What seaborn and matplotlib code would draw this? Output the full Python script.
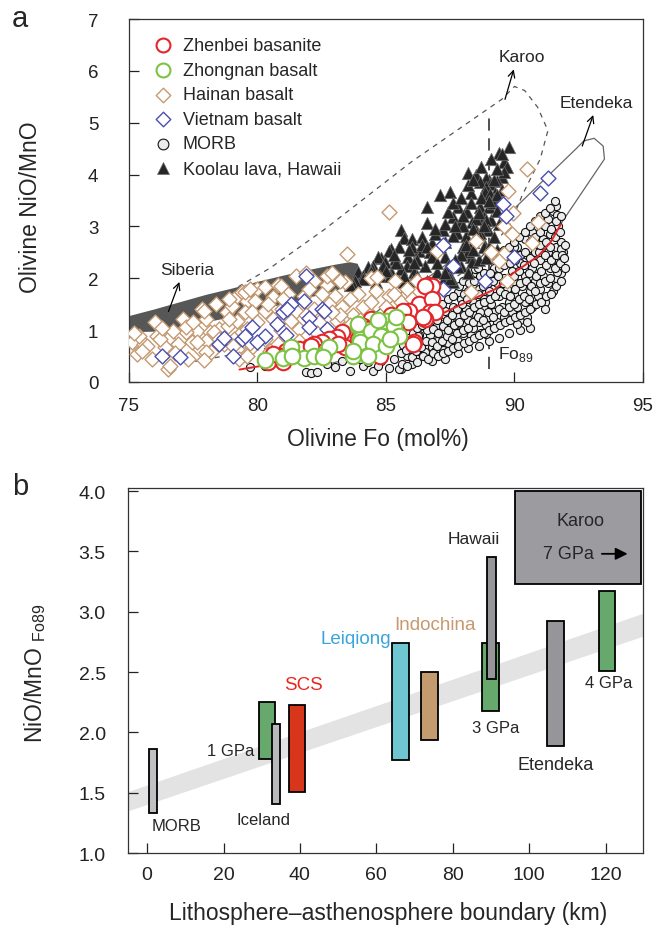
import matplotlib
matplotlib.use('Agg')
import matplotlib.pyplot as plt
import numpy as np
import pandas as pd
import seaborn as sns

# ---------------- panel a: olivine Fo vs NiO/MnO ----------------
zhenbei = [(86.65, 1.88), (86.8, 1.85), (86.5, 1.85), (86.3, 1.5), (86.8, 1.6), (86.7, 1.35), (86.9, 1.35),
           (85.9, 1.37), (85.65, 1.37), (85.7, 1.15), (85.85, 1.15), (86.5, 1.21), (86.45, 1.25), (86.1, 0.77),
           (86.05, 0.73), (84.4, 1.21), (84.7, 1.02), (85.4, 1.02), (84.75, 0.5), (84.1, 1.08), (84.3, 1.02),
           (83.3, 0.96), (83.1, 0.87), (82.8, 0.83), (82.5, 0.77), (82.2, 0.73), (82.0, 0.67), (81.6, 0.63),
           (81.1, 0.6), (80.9, 0.5), (80.4, 0.38), (83.4, 0.67), (83.9, 0.83), (83.9, 0.58), (82.5, 0.58),
           (83.15, 0.73), (80.6, 0.54), (81.0, 0.38), (81.3, 0.58), (82.1, 0.69), (85.2, 1.3), (84.9, 0.85),
           (85.0, 1.15)]
zhongnan = [(80.3, 0.42), (81.0, 0.46), (81.3, 0.67), (81.8, 0.46), (82.2, 0.5), (82.6, 0.54), (81.35, 0.5),
            (82.8, 0.67), (83.9, 1.08), (83.7, 0.5), (84.1, 0.67), (84.4, 0.73), (84.0, 0.83), (83.9, 1.12),
            (85.0, 1.17), (85.3, 1.08), (85.5, 0.88), (84.4, 0.98), (84.8, 0.88), (84.0, 0.77), (84.5, 0.73),
            (83.7, 0.6), (85.0, 0.69), (84.3, 0.5), (82.55, 0.48), (85.15, 0.83), (84.7, 1.2), (85.4, 1.25)]
hainan = [(76.0, 1.15), (77.1, 1.21), (78.0, 1.21), (77.85, 1.4), (78.4, 1.5), (78.8, 1.35), (79.1, 1.6),
          (79.4, 1.73), (75.1, 0.77), (75.3, 0.54), (75.6, 0.73), (76.1, 0.88), (76.5, 0.83), (75.4, 0.88),
          (76.4, 0.67), (76.9, 0.73), (77.45, 0.77), (77.65, 0.98), (78.15, 0.96), (77.2, 0.96), (76.7, 0.98),
          (76.5, 0.25), (78.0, 0.79), (78.5, 1.02), (78.85, 1.08), (79.2, 1.17), (78.7, 0.73), (79.2, 0.63),
          (78.2, 0.58), (77.3, 0.44), (75.9, 0.44), (79.0, 1.46), (79.6, 1.56), (79.5, 1.35), (79.1, 0.83),
          (75.7, 0.69), (76.6, 0.31), (77.75, 0.63), (78.3, 0.96), (77.9, 1.37), (78.9, 1.6), (79.5, 1.73),
          (80.0, 1.79), (79.3, 0.44), (79.4, 0.96), (77.2, 1.06), (76.2, 0.83), (78.9, 1.21), (78.5, 0.83),
          (79.05, 0.69), (78.0, 0.58), (77.65, 0.77), (81.5, 2.04),
          (79.7, 1.79), (80.3, 1.83), (80.8, 1.88), (82.2, 1.94), (82.7, 1.88), (83.4, 1.92), (83.5, 2.46),
          (79.9, 1.56), (80.6, 1.63), (81.2, 1.69), (81.8, 1.65), (82.5, 1.69), (83.0, 1.65), (83.9, 1.69),
          (79.8, 1.35), (80.3, 1.37), (80.95, 1.4), (81.5, 1.37), (82.2, 1.4), (83.3, 1.44), (84.1, 1.44),
          (80.0, 1.15), (80.6, 1.21), (81.3, 1.17), (82.4, 1.15), (79.6, 1.02), (80.3, 0.83), (81.6, 1.02),
          (83.1, 1.17), (79.8, 0.67), (80.8, 0.73), (82.7, 2.04),
          (84.4, 2.0), (84.6, 1.75), (85.1, 1.65), (84.4, 1.55), (85.35, 1.95), (85.8, 1.8), (86.2, 1.95),
          (85.0, 1.45), (83.6, 1.6), (83.7, 1.3), (84.0, 1.2), (83.2, 1.3), (84.65, 2.02), (88.3, 1.73),
          (82.0, 1.8), (82.9, 2.1), (83.2, 1.95), (81.0, 1.6), (80.4, 1.5), (82.8, 1.5), (83.6, 1.1),
          (82.9, 1.35), (81.9, 1.3), (81.6, 0.8), (82.3, 0.95), (80.9, 1.0), (80.5, 0.6), (79.6, 0.5),
          (84.5, 1.25), (85.6, 1.55), (86.0, 1.6), (85.3, 1.7), (77.5, 1.15), (76.3, 1.05), (75.5, 0.6),
          (75.2, 0.95), (76.8, 0.55), (77.9, 0.42), (79.7, 0.75), (80.9, 1.85), (81.9, 2.1),
          (85.1, 3.27), (88.5, 2.72), (87.0, 2.52), (89.1, 2.5), (90.5, 4.1), (89.75, 3.68), (89.95, 3.25),
          (89.6, 3.0), (89.9, 2.85), (90.9, 3.08), (90.7, 2.69), (89.6, 2.46), (89.7, 1.94), (89.4, 2.33)]
vietnam = [(76.3, 0.5), (77.0, 0.48), (78.5, 0.73), (78.7, 0.85), (79.05, 0.5), (79.4, 0.83), (79.8, 1.07),
           (80.3, 0.88), (80.75, 1.12), (81.0, 1.35), (81.3, 1.5), (81.8, 1.56), (81.9, 2.04), (82.0, 1.23),
           (82.5, 1.4), (80.0, 0.78), (79.5, 0.88), (81.1, 0.9), (81.15, 1.4), (82.7, 1.02), (82.0, 1.06),
           (82.6, 1.37), (87.2, 2.65), (87.6, 2.23), (87.2, 1.79), (88.85, 1.94), (91.3, 3.94), (91.0, 3.65),
           (89.55, 3.43), (89.65, 3.2), (90.0, 2.42)]
morb = [(79.7, 0.28), (80.3, 0.3), (81.9, 0.2), (82.1, 0.18), (82.3, 0.2), (83.0, 0.28), (83.6, 0.22),
        (84.1, 0.3), (84.5, 0.22), (85.1, 0.27), (85.6, 0.25), (85.3, 0.45), (84.8, 0.4), (83.3, 0.4),
        (82.7, 0.35), (84.0, 0.45), (85.8, 0.5), (86.0, 0.62), (86.2, 0.45), (86.4, 0.75), (86.5, 0.58),
        (86.7, 0.9), (86.8, 0.68), (86.9, 0.52), (87.0, 1.1), (87.0, 0.8), (86.6, 1.0), (86.3, 0.9),
        (86.1, 0.8), (85.9, 0.7), (87.2, 0.62), (87.3, 1.3), (87.2, 0.95), (87.4, 0.75), (87.5, 1.15),
        (87.5, 0.9), (87.6, 1.45), (87.7, 1.0), (87.8, 0.8), (87.8, 1.25), (87.9, 1.6), (88.0, 1.1),
        (88.0, 0.95), (88.1, 1.4), (88.2, 1.75), (88.2, 1.2), (88.3, 0.9), (88.4, 1.55), (88.4, 1.05),
        (88.5, 2.1), (88.5, 1.3), (88.6, 1.8), (88.6, 1.15), (88.7, 0.95), (88.8, 1.6), (88.8, 1.4),
        (88.9, 2.0), (88.9, 1.1), (89.0, 1.75), (89.0, 1.25), (89.1, 1.5), (89.2, 2.2), (89.2, 1.35),
        (89.3, 1.9), (89.3, 1.15), (89.4, 1.65), (89.5, 2.3), (89.5, 1.45), (89.6, 2.0), (89.6, 1.25),
        (89.7, 1.8), (89.8, 2.45), (89.8, 1.55), (89.9, 2.15), (89.9, 1.35), (90.0, 1.95), (90.0, 1.7),
        (90.1, 2.6), (90.1, 1.45), (90.2, 2.3), (90.2, 1.2), (90.3, 1.85), (90.4, 2.75), (90.4, 2.05),
        (90.4, 1.55), (90.5, 2.45), (90.5, 1.25), (90.6, 1.75), (90.7, 2.9), (90.7, 2.2), (90.7, 1.45),
        (90.8, 2.6), (90.8, 1.95), (90.9, 1.65), (91.0, 3.05), (91.0, 2.35), (91.0, 1.8), (91.1, 2.75),
        (91.1, 2.05), (91.2, 1.55), (91.3, 3.15), (91.3, 2.5), (91.3, 1.9), (91.4, 2.85), (91.4, 2.2),
        (91.5, 1.75), (91.5, 3.3), (91.6, 2.6), (91.6, 2.0), (91.7, 3.0), (91.7, 2.35), (91.8, 2.7),
        (91.8, 2.1), (91.9, 2.5), (91.6, 3.4), (91.2, 1.4), (90.6, 1.05), (90.2, 1.0), (89.8, 0.95),
        (89.4, 0.85), (89.0, 0.8), (88.6, 0.7), (88.2, 0.65), (87.8, 0.55), (87.3, 0.45), (86.8, 0.4),
        (86.0, 0.35), (90.0, 2.6), (88.65, 1.35), (88.9, 0.92), (90.1, 1.12), (90.5, 1.15), (91.65, 2.12),
        (91.8, 2.56), (91.65, 3.23), (88.45, 2.17), (87.8, 1.73), (87.3, 1.37), (86.9, 0.6), (85.5, 0.25),
        (84.7, 0.31), (84.3, 0.38),
        (85.62, 0.35), (85.58, 0.55), (85.65, 0.72), (85.82, 0.3), (85.77, 0.62), (85.84, 0.85),
        (86.03, 0.48), (85.97, 0.75), (86.05, 0.95), (86.22, 0.38), (86.18, 0.6), (86.24, 0.88),
        (86.2, 1.05), (86.43, 0.5), (86.38, 0.68), (86.41, 1.1), (86.62, 0.45), (86.57, 0.8),
        (86.64, 1.15), (86.83, 0.55), (86.78, 0.78), (86.82, 1.02), (86.79, 1.25), (87.03, 0.5),
        (86.98, 0.7), (87.04, 0.95), (86.97, 1.2), (87.02, 1.4), (87.22, 0.55), (87.18, 0.8),
        (87.23, 1.08), (87.19, 1.5), (87.42, 0.6), (87.37, 0.88), (87.41, 1.0), (87.38, 1.2),
        (87.43, 1.6), (87.62, 0.65), (87.58, 0.82), (87.63, 1.1), (87.57, 1.3), (87.61, 1.65),
        (87.82, 0.7), (87.78, 0.95), (87.83, 1.15), (87.77, 1.4), (87.84, 1.85), (88.02, 0.75),
        (87.98, 1.0), (88.03, 1.3), (87.97, 1.5), (88.04, 1.7), (87.99, 1.95), (88.22, 0.8),
        (88.18, 1.05), (88.23, 1.35), (88.17, 1.6), (88.24, 1.9), (88.42, 0.85), (88.38, 1.15),
        (88.43, 1.45), (88.37, 1.7), (88.41, 1.95), (88.39, 2.3), (88.62, 0.9), (88.58, 1.25),
        (88.63, 1.5), (88.57, 1.7), (88.64, 2.05), (88.59, 2.2), (88.82, 0.95), (88.78, 1.2),
        (88.83, 1.55), (88.77, 1.85), (88.81, 2.1), (89.02, 1.0), (88.98, 1.35), (89.03, 1.6),
        (88.97, 1.9), (89.04, 2.1), (88.99, 2.35), (89.22, 1.05), (89.18, 1.25), (89.23, 1.65),
        (89.17, 1.95), (89.21, 2.45), (89.42, 1.1), (89.38, 1.4), (89.43, 1.75), (89.37, 2.05),
        (89.41, 2.2), (89.39, 2.5), (89.62, 1.15), (89.58, 1.35), (89.63, 1.7), (89.57, 1.9),
        (89.61, 2.25), (89.59, 2.55), (89.82, 1.2), (89.78, 1.45), (89.83, 1.65), (89.77, 2.0),
        (89.81, 2.3), (89.79, 2.6), (90.02, 1.25), (89.98, 1.5), (90.03, 1.8), (89.97, 2.05),
        (90.01, 2.35), (89.99, 2.7), (90.22, 1.3), (90.18, 1.6), (90.23, 1.9), (90.17, 2.15),
        (90.21, 2.45), (90.19, 2.8), (90.42, 1.35), (90.38, 1.65), (90.43, 1.95), (90.37, 2.25),
        (90.41, 2.5), (90.39, 2.9), (90.62, 1.4), (90.58, 1.6), (90.63, 1.85), (90.57, 2.1),
        (90.61, 2.4), (90.59, 2.7), (90.6, 3.0), (90.82, 1.5), (90.78, 1.75), (90.83, 2.05),
        (90.77, 2.3), (90.81, 2.5), (90.79, 2.8), (90.8, 3.1), (91.02, 1.55), (90.98, 1.9),
        (91.03, 2.15), (90.97, 2.5), (91.01, 2.65), (90.99, 2.9), (91.0, 3.2), (91.22, 1.65),
        (91.18, 1.95), (91.23, 2.25), (91.17, 2.45), (91.21, 2.7), (91.19, 3.0), (91.2, 3.25),
        (91.42, 1.7), (91.38, 2.0), (91.43, 2.35), (91.37, 2.6), (91.41, 2.95), (91.39, 3.35),
        (91.62, 1.85), (91.58, 2.2), (91.63, 2.45), (91.57, 2.8), (91.61, 3.1), (91.59, 3.5),
        (91.82, 1.95), (91.78, 2.3), (91.83, 2.45), (91.77, 2.9), (91.81, 3.2), (91.95, 2.2),
        (91.93, 2.4), (91.97, 2.65)]
koolau = [(89.8, 4.54), (89.4, 4.42), (89.6, 4.25), (89.7, 4.15), (88.2, 4.04), (88.5, 4.0), (89.0, 3.9),
          (89.5, 3.96), (88.9, 3.94), (89.3, 3.87), (88.65, 3.85), (89.05, 3.81), (88.9, 3.77), (89.2, 3.9),
          (87.1, 3.6), (87.5, 3.67), (88.3, 3.65), (88.85, 3.67), (89.25, 3.65), (89.05, 3.62), (86.6, 3.37),
          (87.8, 3.37), (88.1, 3.29), (88.65, 3.38), (89.0, 3.38), (89.2, 3.52), (89.15, 3.46), (87.6, 3.19),
          (88.15, 3.27), (87.4, 3.27), (88.8, 3.19), (89.1, 3.13), (88.9, 3.13), (86.6, 3.06), (87.9, 3.08),
          (88.35, 3.08), (85.6, 2.94), (87.2, 2.94), (88.95, 2.94), (87.75, 2.88), (88.55, 2.88), (88.65, 2.88),
          (87.6, 2.81), (88.1, 2.81), (88.6, 2.81), (85.7, 2.77), (86.0, 2.75), (86.8, 2.69), (88.85, 2.62),
          (88.8, 2.6), (85.2, 2.56), (85.1, 2.52), (86.3, 2.52), (86.7, 2.5), (84.8, 2.4), (84.7, 2.42),
          (85.85, 2.42), (86.8, 2.42), (87.3, 2.42), (88.3, 2.42), (85.35, 2.37), (84.95, 2.31), (88.35, 2.31),
          (84.3, 2.21), (84.5, 2.23), (84.9, 2.23), (85.8, 2.23), (86.5, 2.23), (87.4, 2.23), (87.9, 2.23),
          (87.8, 2.21), (84.45, 2.17), (85.6, 2.17), (85.2, 2.12), (86.1, 2.13), (87.0, 2.13), (84.4, 2.12),
          (83.9, 2.12), (84.75, 2.04), (84.1, 2.04), (85.15, 2.04), (86.2, 2.04), (87.5, 2.04), (84.3, 1.98),
          (84.1, 1.98), (83.8, 1.94), (85.5, 1.94), (86.0, 1.94), (85.7, 1.92), (87.2, 1.94), (87.6, 1.92),
          (87.5, 1.98), (83.7, 1.88), (83.6, 1.88), (88.0, 2.6), (88.4, 2.7), (88.2, 2.5), (87.9, 2.45),
          (87.0, 2.3), (86.2, 2.35), (85.5, 2.6), (86.4, 2.8), (86.9, 2.85), (87.3, 2.7), (88.0, 3.0),
          (88.5, 3.15), (88.3, 3.45), (88.7, 3.55), (89.3, 3.3), (89.4, 3.05), (89.5, 3.7), (89.6, 4.05),
          (86.0, 2.6), (85.4, 2.3), (85.0, 2.15), (86.6, 1.95), (87.0, 1.85), (84.6, 1.92), (88.2, 2.1),
          (88.6, 2.35), (89.0, 2.6), (89.2, 2.8),
          (85.3, 2.45), (85.9, 2.55), (86.4, 2.65), (86.9, 2.95), (87.3, 3.05), (87.6, 3.45), (87.9, 3.55),
          (88.2, 3.8), (88.4, 3.9), (88.7, 4.15), (89.1, 4.3), (89.3, 4.1), (89.5, 4.4), (88.0, 3.2),
          (87.7, 3.0), (87.1, 2.6), (86.6, 2.6), (86.1, 2.3), (85.7, 2.05), (87.3, 2.1), (87.7, 2.35),
          (88.1, 2.65), (88.4, 2.95), (88.8, 3.0), (89.3, 3.6), (89.0, 3.5), (88.6, 3.25), (88.4, 2.55),
          (88.9, 2.4), (89.3, 2.55)]

# fields and trend line
siberia_field = [(75, 1.27), (76, 1.4), (77, 1.54), (78, 1.68), (79, 1.8), (80, 1.93), (81, 2.05), (82, 2.16),
                 (83, 2.26), (83.6, 2.31), (83.9, 2.28), (84.0, 2.15), (84.0, 1.95), (83, 1.75), (81, 1.5),
                 (79, 1.25), (77, 1.05), (76, 0.97), (75, 0.96)]
karoo_field = [(76.8, 0.45), (77.6, 0.4), (80.0, 0.62), (83.0, 0.9), (86.0, 1.4), (88.5, 2.3), (89.8, 3.0),
               (90.3, 3.6), (91.0, 4.3), (91.3, 4.85), (90.9, 5.3), (90.4, 5.62), (90.0, 5.7), (89.5, 5.45),
               (86.0, 4.25), (82.6, 2.94), (80.5, 2.2), (79.3, 1.85), (78.0, 1.3), (76.8, 0.45)]
etendeka_field = [(82.6, 0.33), (84.5, 0.55), (86.25, 0.96), (88.1, 1.4), (90.0, 2.05), (91.8, 3.05),
                  (93.5, 4.3), (93.45, 4.55), (93.1, 4.7), (92.7, 4.65), (92.4, 4.5), (89.9, 3.3), (88.3, 2.6),
                  (86.7, 2.04), (85.75, 1.79), (84.5, 1.3), (83.3, 0.8), (82.6, 0.33)]
zhenbei_trend = [(79.3, 0.24), (81.0, 0.38), (83.0, 0.6), (85.0, 0.9), (86.0, 1.1), (87.1, 1.3), (88.65, 1.66),
                 (89.25, 1.79), (89.95, 2.1), (90.9, 2.42), (91.4, 2.69), (91.8, 3.04)]
fo89 = 89.0

# ---------------- panel b: LAB depth vs NiO/MnO at Fo89 ----------------
b_names = ['MORB', '1 GPa', 'Iceland', 'SCS', 'Leiqiong', 'Indochina', '3 GPa', 'Hawaii', 'Etendeka',
           '4 GPa', 'Karoo']
lab_min = [0.5, 29.3, 32.7, 37.1, 64.1, 71.7, 87.7, 89.0, 104.7, 118.3, 96.3]
lab_max = [2.6, 33.5, 34.8, 41.4, 68.6, 76.2, 92.1, 91.4, 109.2, 122.5, 129.3]
ratio_min = [1.33, 1.78, 1.41, 1.51, 1.77, 1.94, 2.175, 2.44, 1.89, 2.51, 3.23]
ratio_max = [1.86, 2.25, 2.07, 2.23, 2.74, 2.5, 2.74, 3.45, 2.92, 3.175, 4.0]
b_colors = ['#c0c0c2', '#67a96c', '#b9b9bb', '#d7361b', '#6fc6d1', '#c49a6f', '#67a96c', '#96959a',
            '#96959a', '#67a96c', '#9c9b9f']
trend_lab = [-5, 130]
trend_low = [1.35, 2.80]
trend_high = [1.51, 2.99]

sns.set_style('ticks')
plt.rcParams['font.family'] = ['Liberation Sans', 'DejaVu Sans']
plt.rcParams['mathtext.fontset'] = 'custom'
plt.rcParams['mathtext.rm'] = 'Liberation Sans'
plt.rcParams['axes.edgecolor'] = '#333333'
plt.rcParams['axes.linewidth'] = 0.9

fig = plt.figure(figsize=(6.53, 9.28), dpi=100)
ax1 = fig.add_axes([0.1975, 0.5873, 0.7872, 0.3911])
ax2 = fig.add_axes([0.196, 0.0797, 0.7887, 0.3933])

# --- panel a ---
sib = np.array(siberia_field)
ax1.fill(sib[:, 0], sib[:, 1], color='#575757', lw=0, zorder=1)
kar = np.array(karoo_field)
ax1.plot(kar[:, 0], kar[:, 1], ls=(0, (4, 4)), color='#555555', lw=0.9, zorder=1.5)
ete = np.array(etendeka_field)
ax1.plot(ete[:, 0], ete[:, 1], color='#666666', lw=0.9, zorder=1.5)
ax1.plot([fo89, fo89], [0.25, 5.1], ls=(0, (8, 5)), color='#222222', lw=1.1, zorder=2)

series = [
    ('MORB', morb, dict(marker='o', s=34, color='#ececec', edgecolor='#111111', linewidth=0.8), 2.2),
    ('Koolau lava, Hawaii', koolau, dict(marker='^', s=80, color='#262626', edgecolor='#707070', linewidth=0.5), 3),
    ('Hainan basalt', hainan, dict(marker='D', s=58, color='white', edgecolor='#c49a72', linewidth=1.0), 3.5),
    ('Vietnam basalt', vietnam, dict(marker='D', s=58, color='white', edgecolor='#4b4fae', linewidth=1.0), 3.6),
    ('Zhenbei basanite', zhenbei, dict(marker='o', s=125, color='white', edgecolor='#e3262a', linewidth=1.5), 4),
    ('Zhongnan basalt', zhongnan, dict(marker='o', s=125, color='white', edgecolor='#7cc243', linewidth=1.5), 4.5),
]
for name, pts, kw, z in series:
    df = pd.DataFrame(pts, columns=['fo', 'ratio'])
    sns.scatterplot(data=df, x='fo', y='ratio', ax=ax1, label=name, zorder=z, **kw)

tr = np.array(zhenbei_trend)
ax1.plot(tr[:, 0], tr[:, 1], color='#e3262a', lw=1.4, zorder=2.5)

arrow_kw = dict(arrowstyle='->', color='black', lw=0.9, mutation_scale=12)
ax1.annotate('', xy=(77.0, 1.98), xytext=(76.5, 1.31), arrowprops=arrow_kw, zorder=6)
ax1.text(77.25, 2.17, 'Siberia', ha='center', va='center', fontsize=12.5)
ax1.annotate('', xy=(90.0, 6.08), xytext=(89.6, 5.4), arrowprops=arrow_kw, zorder=6)
ax1.text(90.3, 6.27, 'Karoo', ha='center', va='center', fontsize=12.5)
ax1.annotate('', xy=(93.1, 5.2), xytext=(92.6, 4.5), arrowprops=arrow_kw, zorder=6)
ax1.text(93.2, 5.40, 'Etendeka', ha='center', va='center', fontsize=12.5)
ax1.text(89.35, 0.54, r'Fo$_{\mathregular{89}}$', ha='left', va='center', fontsize=12.5)

order = ['Zhenbei basanite', 'Zhongnan basalt', 'Hainan basalt', 'Vietnam basalt', 'MORB',
         'Koolau lava, Hawaii']
legend_sizes = [100, 100, 55, 55, 60, 75]
handles, labels = ax1.get_legend_handles_labels()
hmap = dict(zip(labels, handles))
leg = ax1.legend([hmap[k] for k in order], order, loc='upper left', bbox_to_anchor=(0.02, 0.985),
                 frameon=False, fontsize=13, handletextpad=0.5, labelspacing=0.42, borderpad=0.2,
                 handlelength=1.2)
for h, sz in zip(leg.legend_handles, legend_sizes):
    h.set_sizes([sz])

ax1.set_xlim(75, 95)
ax1.set_ylim(0, 7)
ax1.set_xticks([75, 80, 85, 90, 95])
ax1.set_yticks(range(0, 8))
ax1.tick_params(direction='in', length=7, width=0.9, labelsize=13.5, colors='#222222')
ax1.tick_params(axis='y', pad=22)
ax1.tick_params(axis='x', pad=11)
ax1.set_xlabel('Olivine Fo (mol%)', fontsize=16.5, va='top')
ax1.set_ylabel('Olivine NiO/MnO', fontsize=16.5)
ax1.xaxis.set_label_coords(0.484, -0.124)
ax1.yaxis.set_label_coords(-0.169, 0.485)

# --- panel b ---
ax2.fill_between(trend_lab, trend_low, trend_high, color='#e3e3e3', lw=0, zorder=0)
left = np.array(lab_min)
right = np.array(lab_max)
lo = np.array(ratio_min)
hi = np.array(ratio_max)
ax2.bar((left + right) / 2, hi - lo, width=right - left, bottom=lo, color=b_colors,
        edgecolor='black', linewidth=1.3, zorder=2)

ax2.text(1.2, 1.23, 'MORB', ha='left', va='center', fontsize=12)
ax2.text(30.4, 1.275, 'Iceland', ha='center', va='center', fontsize=12)
ax2.text(28.0, 1.85, '1 GPa', ha='right', va='center', fontsize=12)
ax2.text(41.0, 2.40, 'SCS', ha='center', va='center', fontsize=13.5, color='#e8281e')
ax2.text(54.7, 2.78, 'Leiqiong', ha='center', va='center', fontsize=13.5, color='#3aa5dc')
ax2.text(75.4, 2.89, 'Indochina', ha='center', va='center', fontsize=13.5, color='#c7996e')
ax2.text(85.6, 3.61, 'Hawaii', ha='center', va='center', fontsize=12.5)
ax2.text(91.3, 2.04, '3 GPa', ha='center', va='center', fontsize=12)
ax2.text(107.0, 1.73, 'Etendeka', ha='center', va='center', fontsize=13)
ax2.text(120.7, 2.41, '4 GPa', ha='center', va='center', fontsize=12)
ax2.text(113.4, 3.76, 'Karoo', ha='center', va='center', fontsize=13)
ax2.text(110.2, 3.48, '7 GPa', ha='center', va='center', fontsize=13)
ax2.annotate('', xy=(126.5, 3.48), xytext=(118.3, 3.48),
             arrowprops=dict(arrowstyle='-|>', color='black', lw=1.3, mutation_scale=18), zorder=5)

ax2.set_xlim(-5, 129.8)
ax2.set_ylim(1.0, 4.025)
ax2.set_xticks(range(0, 121, 20))
ax2.set_yticks(np.arange(1.0, 4.01, 0.5))
ax2.set_yticklabels([f'{v:.1f}' for v in np.arange(1.0, 4.01, 0.5)])
ax2.tick_params(direction='in', length=7, width=0.9, labelsize=14, colors='#222222')
ax2.tick_params(axis='y', pad=16)
ax2.tick_params(axis='x', pad=9)
ax2.set_xlabel('Lithosphere\u2013asthenosphere boundary (km)', fontsize=16.5, va='top')
ax2.set_ylabel(r'NiO/MnO $_{\mathregular{Fo89}}$', fontsize=16.5)
ax2.xaxis.set_label_coords(0.505, -0.1315)
ax2.yaxis.set_label_coords(-0.155, 0.496)

fig.text(12 / 653, 1 - 27 / 928, 'a', fontsize=21, va='baseline')
fig.text(12 / 653, 1 - 495 / 928, 'b', fontsize=21, va='baseline')

fig.savefig('out.png', dpi=100)
